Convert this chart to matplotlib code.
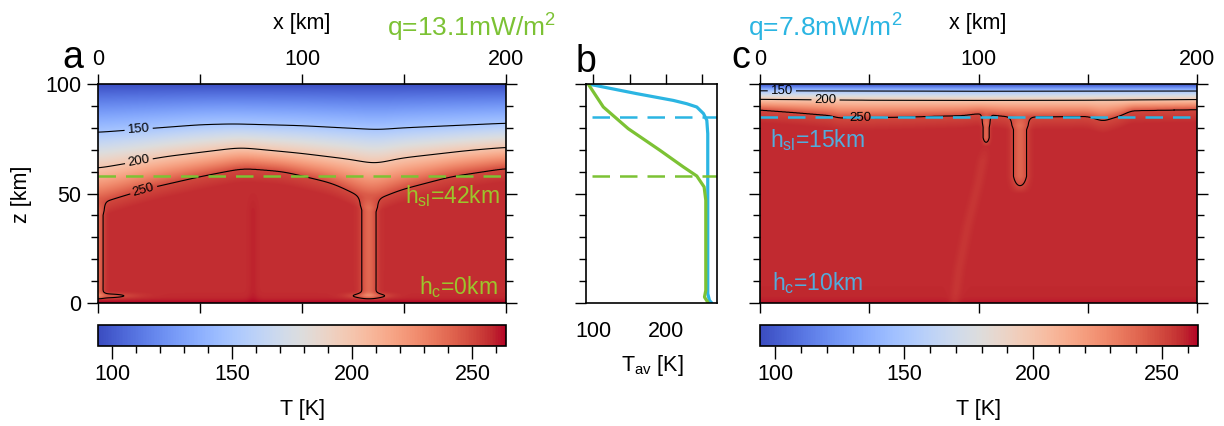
import numpy as np
import matplotlib
matplotlib.use("Agg")
import matplotlib.pyplot as plt
from matplotlib.ticker import MultipleLocator, FixedLocator

plt.rcParams['font.family'] = ['Liberation Sans', 'DejaVu Sans']
plt.rcParams['mathtext.fontset'] = 'custom'
plt.rcParams['mathtext.rm'] = 'Liberation Sans'
plt.rcParams['mathtext.it'] = 'Liberation Sans:italic'

GREEN = '#7cc234'
BLUE = '#2bb5e2'

# ---- panel a: q=13.1 mW/m2, isotherm depths (z in km) read along x (km)
a_x150 = [0, 50, 66, 99, 132, 137, 148, 200]
a_z150 = [77.9, 81.4, 81.8, 81.0, 79.4, 79.1, 79.9, 82.1]
a_x200 = [0, 33.5, 69.6, 99, 123.6, 135.8, 148, 181, 200]
a_z200 = [61.5, 66.9, 71.0, 68.4, 65.6, 63.5, 66.1, 69.6, 71.1]
a_x250 = [0, 5.7, 25, 50, 71, 91, 115, 129, 133, 136, 148, 173, 200]
a_z250 = [45.0, 47.0, 52.4, 57.7, 61.5, 60.0, 54.7, 48.5, 46.0, 47.0, 51.6, 57.7, 61.5]
a_tint = 257.0
# cold downwellings: centre x, half width of 250 K contour, tip z, foot half width
a_plume_x = [0.0, 132.8]
a_plume_hw = [2.5, 3.5]
a_plume_tip = [2.3, 2.3]
a_foot_hw = [14.0, 8.3]
a_hot_x = [76.0]
a_hsl = 58.0

# ---- panel c: q=7.8 mW/m2
c_x150 = [0, 100, 200]
c_z150 = [96.9, 96.7, 96.8]
c_x200 = [0, 50, 100, 150, 200]
c_z200 = [93.0, 92.6, 92.5, 92.6, 92.9]
c_x250 = [0, 15, 32, 36, 50, 70, 93, 100, 112, 125, 150, 157, 165, 170, 200]
c_z250 = [88.1, 87.0, 85.6, 84.5, 84.6, 85.0, 85.6, 86.5, 85.2, 85.0, 85.2, 83.0, 85.5, 87.8, 88.3]
c_tint = 258.0
c_plume_x = [103.5, 119.0]
c_plume_hw = [1.4, 3.0]
c_plume_tip = [73.4, 53.6]
c_foot_hw = [0.0, 0.0]
c_relic_z = [0, 15, 35, 55, 73]
c_relic_x = [89, 91, 95, 100, 103.5]
c_hsl = 85.0

# ---- panel b: horizontally averaged temperature profiles
b_green_z = [100, 89.5, 79.6, 69.7, 62.1, 58.0, 53.0, 46.9, 20.0, 5.8, 2.7, 0.0]
b_green_T = [93, 113.8, 148, 191.7, 223.9, 242.2, 252.3, 254.6, 254.6, 254.6, 252.8, 258.0]
b_blue_z = [100, 95.6, 92.5, 91.0, 89.5, 86.5, 83.4, 77.3, 20.0, 4.3, 1.2, 0.0]
b_blue_T = [93, 159.6, 210, 228.4, 242.2, 251.4, 256.0, 257.3, 257.3, 257.3, 259.6, 262.8]

T_TOP = 95.0
VMIN, VMAX = 94, 264

x = np.linspace(0, 200, 1601)
z = np.linspace(0, 100, 801)


def smooth(s, sigma_km):
    # soften the kinks between read-off points
    n = int(sigma_km / (x[1] - x[0]))
    k = np.exp(-0.5 * (np.arange(-3 * n, 3 * n + 1) / n) ** 2)
    k /= k.sum()
    pad = np.pad(s, 3 * n, mode='edge')
    return np.convolve(pad, k, mode='valid')


def build_field(x150, z150, x200, z200, x250, z250, tint, px, phw, ptip, fhw,
                hot_bottom, ramp, sig):
    s150 = smooth(np.interp(x, x150, z150), sig)
    s200 = smooth(np.interp(x, x200, z200), sig)
    s250 = smooth(np.interp(x, x250, z250), sig)
    T = np.empty((z.size, x.size))
    for i in range(x.size):
        kz = [0, s250[i] - 6, s250[i], s200[i], s150[i], 100]
        kt = [tint, tint, 250, 200, 150, T_TOP]
        T[:, i] = np.interp(z, kz, kt)
    X, Z = np.meshgrid(x, z)
    T += hot_bottom * np.exp(-Z / 1.5)
    amp = 17.0
    thr = (tint - 250) / amp
    lid_taper = np.clip((s250[None, :] + 2 - Z) / 6, 0, 1)
    for xp, hw, tip, fh, L in zip(px, phw, ptip, fhw, ramp):
        w = hw / np.sqrt(np.log(amp / (tint - 250)))
        v = np.clip((Z - tip) / L + thr, 0, 1) * lid_taper
        T -= amp * np.exp(-((X - xp) / w) ** 2) * v
        if fh > 0:
            af = 14.0
            wf = fh / np.sqrt(np.log(af / (tint - 250)))
            T -= af * np.exp(-((X - xp) / wf) ** 2) * np.exp(-((Z - 3.2) / 1.3) ** 2)
    return T, X, Z


Ta, X, Z = build_field(a_x150, a_z150, a_x200, a_z200, a_x250, a_z250, a_tint,
                       a_plume_x, a_plume_hw, a_plume_tip, a_foot_hw, 8.0,
                       [2.0, 2.0], 4.0)
for xh in a_hot_x:
    Ta += 2.0 * np.exp(-((X - xh) / 2.5) ** 2) * np.clip((52 - Z) / 10, 0, 1)

Tc, X, Z = build_field(c_x150, c_z150, c_x200, c_z200, c_x250, c_z250, c_tint,
                       c_plume_x, c_plume_hw, c_plume_tip, c_foot_hw, 4.0,
                       [4.0, 8.0], 1.5)
xc = np.interp(z, c_relic_z, c_relic_x)
Tc -= 3.0 * np.exp(-((X - xc[:, None]) / 2.5) ** 2) * np.clip((73 - Z) / 8, 0, 1)

W, H = 1224, 426
fig = plt.figure(figsize=(W / 100, H / 100), dpi=100)


def px_axes(l, t, w, h):
    return fig.add_axes([l / W, 1 - (t + h) / H, w / W, h / H])


ax_a = px_axes(98, 84, 408, 219)
ax_b = px_axes(586, 84, 131, 219)
ax_c = px_axes(760, 84, 437, 219)
cax_a = px_axes(98, 325, 408, 21)
cax_c = px_axes(760, 325, 438, 21)


def style_field_axes(ax, ylabels):
    ax.set_xlim(0, 200)
    ax.set_ylim(0, 100)
    ax.xaxis.set_major_locator(FixedLocator([0, 100, 200]))
    ax.xaxis.set_minor_locator(FixedLocator([50, 150]))
    ax.yaxis.set_major_locator(MultipleLocator(50))
    ax.yaxis.set_minor_locator(MultipleLocator(10))
    ax.tick_params(axis='x', which='both', top=True, bottom=True, labeltop=True,
                   labelbottom=False, direction='out', length=7, width=1, pad=3,
                   labelsize=15.5)
    ax.tick_params(axis='y', which='major', left=True, right=True, direction='out',
                   length=8, width=1, labelleft=ylabels, pad=4, labelsize=15.5)
    ax.tick_params(axis='y', which='minor', left=True, right=True, direction='out',
                   length=5, width=1)
    for sp in ax.spines.values():
        sp.set_linewidth(1.2)


def draw_field(ax, T, manual, hsl, dash_color):
    im = ax.imshow(T, extent=[0, 200, 0, 100], origin='lower', aspect='auto',
                   cmap='coolwarm', vmin=VMIN, vmax=VMAX, interpolation='bilinear')
    cs = ax.contour(x, z, T, levels=[150, 200, 250], colors='k', linewidths=0.8)
    ax.clabel(cs, fmt='%d', fontsize=9.5, manual=manual, inline=True, inline_spacing=3)
    ax.axhline(hsl, color=dash_color, lw=1.8, dashes=(7, 4))
    return im


im_a = draw_field(ax_a, Ta, [(20, 78.5), (20, 65), (22, 52.5)], a_hsl, GREEN)
style_field_axes(ax_a, True)
im_c = draw_field(ax_c, Tc, [(10, 96.8), (30, 92.7), (46, 84.6)], c_hsl, BLUE)
style_field_axes(ax_c, False)

ax_a.text(197, 45.6, r'h$_\mathrm{sl}$=42km', color='#9cc52c', fontsize=16.5,
          ha='right', va='baseline')
ax_a.text(196, 4.0, r'h$_\mathrm{c}$=0km', color='#9cc52c', fontsize=16.5,
          ha='right', va='baseline')
ax_c.text(4.6, 71.4, r'h$_\mathrm{sl}$=15km', color='#52acdc', fontsize=16.5,
          ha='left', va='baseline')
ax_c.text(5.3, 6.0, r'h$_\mathrm{c}$=10km', color='#52acdc', fontsize=16.5,
          ha='left', va='baseline')

# panel b
ax_b.plot(b_blue_T, b_blue_z, color=BLUE, lw=2.3, solid_capstyle='round')
ax_b.plot(b_green_T, b_green_z, color=GREEN, lw=2.3, solid_capstyle='round')
ax_b.plot([98, 270], [c_hsl, c_hsl], color=BLUE, lw=1.8, dashes=(7, 4))
ax_b.plot([98, 270], [a_hsl, a_hsl], color=GREEN, lw=1.8, dashes=(7, 4))
ax_b.set_xlim(90, 270)
ax_b.set_ylim(0, 100)
ax_b.xaxis.set_major_locator(FixedLocator([100, 200]))
ax_b.xaxis.set_minor_locator(FixedLocator([150, 250]))
ax_b.yaxis.set_major_locator(MultipleLocator(50))
ax_b.yaxis.set_minor_locator(MultipleLocator(10))
ax_b.tick_params(axis='x', which='both', top=True, bottom=False, labeltop=False,
                 labelbottom=True, direction='out', length=7, width=1, pad=6,
                 labelsize=15.5)
ax_b.tick_params(axis='y', which='both', left=True, right=False, labelleft=False,
                 direction='out', width=1)
ax_b.tick_params(axis='y', which='major', length=8)
ax_b.tick_params(axis='y', which='minor', length=5)
for sp in ax_b.spines.values():
    sp.set_linewidth(1.2)

# colourbars
for cax, im in ((cax_a, im_a), (cax_c, im_c)):
    cb = fig.colorbar(im, cax=cax, orientation='horizontal')
    cb.set_ticks([100, 150, 200, 250])
    cb.ax.xaxis.set_minor_locator(MultipleLocator(10))
    cb.ax.tick_params(which='major', direction='out', length=9, width=1, pad=4,
                      labelsize=15.5)
    cb.ax.tick_params(which='minor', direction='out', length=5, width=1)
    cb.outline.set_linewidth(1.2)

# labels and titles
fig.text(302 / W, 1 - 24 / H, 'x [km]', fontsize=15.5, ha='center', va='center')
fig.text(978 / W, 1 - 24 / H, 'x [km]', fontsize=15.5, ha='center', va='center')
fig.text(22 / W, 1 - 194 / H, 'z [km]', fontsize=15.5, ha='center', va='center',
         rotation=90)
fig.text(302 / W, 1 - 410 / H, 'T [K]', fontsize=15.5, ha='center', va='center')
fig.text(978 / W, 1 - 410 / H, 'T [K]', fontsize=15.5, ha='center', va='center')
fig.text(652 / W, 1 - 366 / H, r'T$_\mathrm{av}$ [K]', fontsize=15.5, ha='center',
         va='center')
fig.text(472 / W, 1 - 28 / H, r'q=13.1mW/m$^2$', fontsize=19, color=GREEN,
         ha='center', va='center')
fig.text(825 / W, 1 - 28 / H, r'q=7.8mW/m$^2$', fontsize=19, color=BLUE,
         ha='center', va='center')
fig.text(73 / W, 1 - 68 / H, 'a', fontsize=27, ha='center', va='baseline')
fig.text(586 / W, 1 - 72 / H, 'b', fontsize=27, ha='center', va='baseline')
fig.text(741 / W, 1 - 68 / H, 'c', fontsize=27, ha='center', va='baseline')

fig.savefig('out.png', dpi=100)
